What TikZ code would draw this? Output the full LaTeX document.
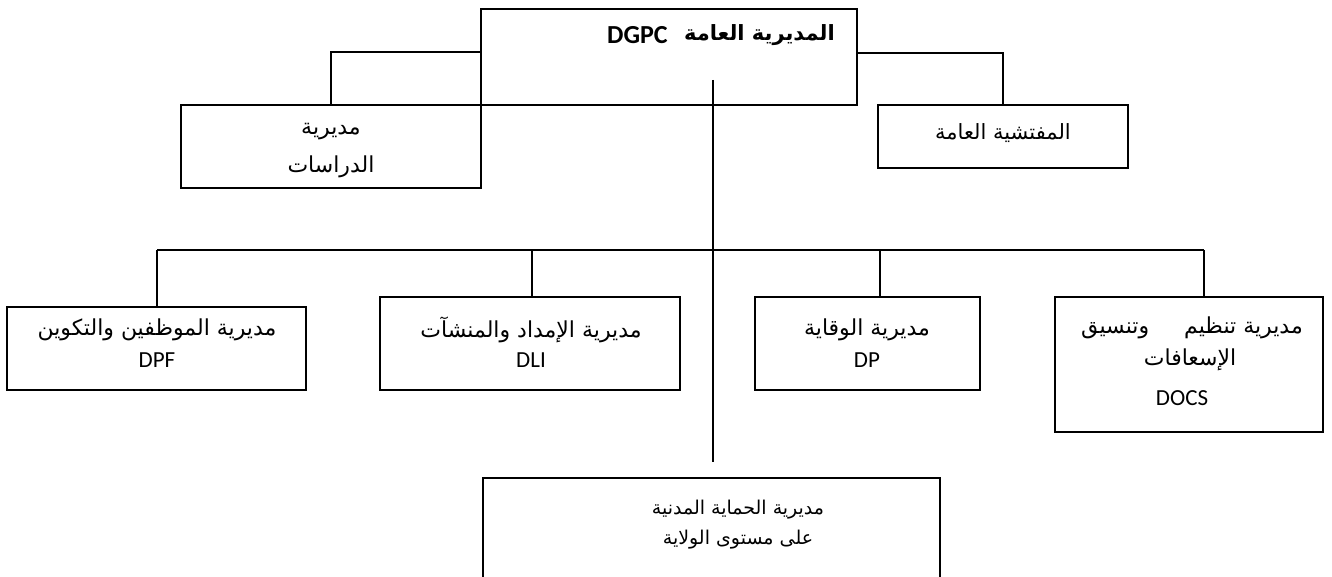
\documentclass[tikz,border=0pt]{standalone}
\usepackage{fontspec}
\setmainfont{Carlito}
\newfontfamily\arabicfont[Script=Arabic]{DejaVu Sans}
\TeXXeTstate=1
\newcommand{\AR}[1]{{\arabicfont\beginR #1\endR}}
\begin{document}
\begin{tikzpicture}[x=1pt,y=-1pt,
  orgbox/.style={draw,line width=1.4pt,inner sep=0pt,minimum width=#1},
  conn/.style={line width=1.4pt},
  lbl/.style={inner sep=0pt,font=\fontsize{22}{26}\selectfont},
  lat/.style={inner sep=0pt,font=\fontsize{23}{26}\selectfont}]
\useasboundingbox[fill=white] (0,0) rectangle (1332,577);
% boxes
\node[orgbox=376pt,minimum height=96pt] (top) at (669,57) {};
\node[orgbox=300pt,minimum height=83pt] (stud) at (331,146.5) {};
\node[orgbox=250pt,minimum height=63pt] (insp) at (1003,136.5) {};
\node[orgbox=299pt,minimum height=83pt] (dpf) at (156.5,348.5) {};
\node[orgbox=300pt,minimum height=93pt] (dli) at (530,343.5) {};
\node[orgbox=225pt,minimum height=93pt] (dp) at (867.5,343.5) {};
\node[orgbox=268pt,minimum height=135pt] (docs) at (1189,364.5) {};
\node[orgbox=457pt,minimum height=122pt] (wil) at (711.5,539) {};
% texts
\node[inner sep=0pt,anchor=east,font=\fontsize{21}{24}\selectfont\bfseries] (topar) at (835,35) {\AR{المديرية العامة}};
\node[inner sep=0pt,anchor=west,font=\fontsize{26}{28}\selectfont\bfseries] (toplat) at (607,35) {DGPC};
\node[lbl] (stud1) at (331,132) {\AR{مديرية}};
\node[lbl] (stud2) at (331,167) {\AR{الدراسات}};
\node[lbl,font=\fontsize{21}{24}\selectfont] (insp1) at (1003,133) {\AR{المفتشية العامة}};
\node[lbl] (dpf1) at (157,330) {\AR{مديرية الموظفين والتكوين}};
\node[lat] (dpf2) at (157,360) {DPF};
\node[lbl] (dli1) at (531,330) {\AR{مديرية الإمداد والمنشآت}};
\node[lat] (dli2) at (531,360) {DLI};
\node[lbl] (dp1) at (867,330) {\AR{مديرية الوقاية}};
\node[lat] (dp2) at (867,360) {DP};
\node[lbl] (docs1) at (1192,328) {\AR{مديرية تنظيم\hspace{35pt}وتنسيق}};
\node[lbl] (docs2) at (1190,360) {\AR{الإسعافات}};
\node[lat] (docs3) at (1182,398) {DOCS};
\node[lbl,font=\fontsize{19}{24}\selectfont] (wil1) at (738,510) {\AR{مديرية الحماية المدنية}};
\node[lbl,font=\fontsize{19}{24}\selectfont] (wil2) at (738,540) {\AR{على مستوى الولاية}};
% connectors
\draw[conn] ([yshift=5pt]top.west) -| (stud.north);
\draw[conn] ([yshift=4pt]top.east) -| (insp.north);
\coordinate (vtop) at (713,80);
\coordinate (vbot) at (713,462);
\draw[conn] (vtop) -- (vbot);
\coordinate (b1) at (157,250);
\coordinate (b2) at (532,250);
\coordinate (b3) at (880,250);
\coordinate (b4) at (1204,250);
\draw[conn] (b1) -- (b4);
\draw[conn] (b1) -- (b1 |- dpf.north);
\draw[conn] (b2) -- (b2 |- dli.north);
\draw[conn] (b3) -- (b3 |- dp.north);
\draw[conn] (b4) -- (b4 |- docs.north);
\end{tikzpicture}
\end{document}
